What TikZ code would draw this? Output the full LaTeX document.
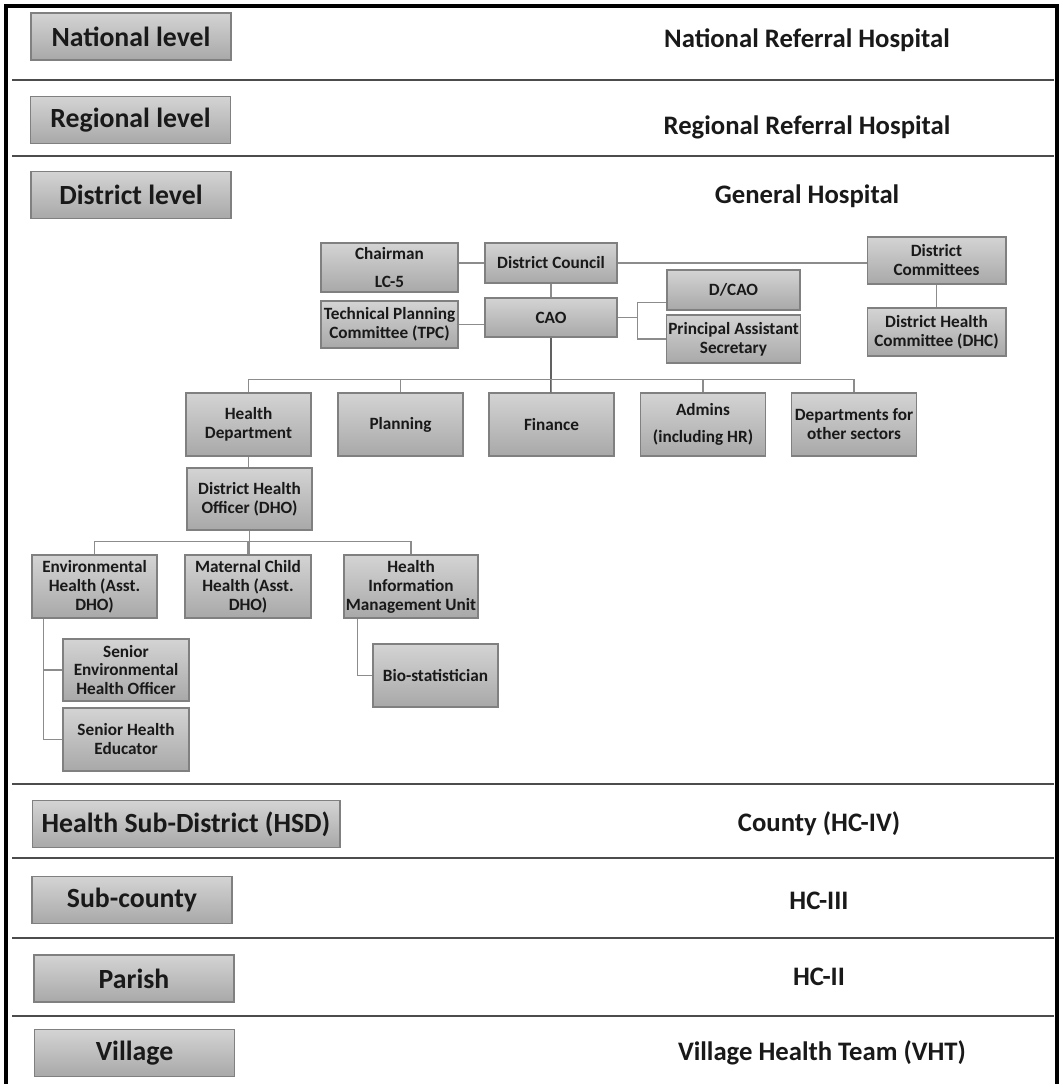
\documentclass[tikz,border=0pt]{standalone}
\usepackage{fontspec}
\setmainfont{Carlito}
\usepackage{tikz}
\usetikzlibrary{calc,positioning}

\begin{document}
\begin{tikzpicture}[x=0.02cm, y=-0.02cm,
  box/.style={draw=black!50, line width=0.6pt, top color=black!17, bottom color=black!34, text=black!90, inner sep=1pt, align=center},
  lvl/.style={box, minimum width=4cm, minimum height=0.94cm, font=\fontsize{15.8}{18}\selectfont\bfseries},
  org/.style={box, minimum width=2.5cm, minimum height=1.26cm, font=\fontsize{9.8}{10.8}\selectfont\bfseries},
  lbl/.style={text=black!90, font=\fontsize{15.2}{18}\selectfont\bfseries},
  sep/.style={draw=black!70, line width=0.85pt},
  link/.style={draw=black!45, line width=0.85pt},
  trunk/.style={draw=black!62, line width=1.5pt}]
\useasboundingbox (0,0) rectangle (1060,1084);
\draw[line width=1.8pt] (6,1100) -- (6,6) -- (1057,6) -- (1057,1100);
\foreach \y in {80,156,784,858,938,1016} \draw[sep] (12,\y) -- (1054,\y);
\node[lvl] (natl) at (131,36.5) {National level};
\node[lvl] (regl) at (130.5,120) {Regional level};
\node[lvl] (dist) at (131,195) {District level};
\node[lvl, minimum width=6.16cm] (hsd) at (186,824) {Health Sub-District (HSD)};
\node[lvl] (subc) at (132,900) {Sub-county};
\node[lvl] (par) at (134,978.5) {Parish};
\node[lvl] (vill) at (134.5,1053) {Village};
\node[lbl] (natr) at (807,40) {National Referral Hospital};
\node[lbl] (regr) at (807,127) {Regional Referral Hospital};
\node[lbl] (genh) at (807,196) {General Hospital};
\node[lbl] (cty) at (819,824) {County (HC-IV)};
\node[lbl] (hc3) at (819,901) {HC-III};
\node[lbl] (hc2) at (819,977) {HC-II};
\node[lbl] (vht) at (822,1053) {Village Health Team (VHT)};
\node[org, minimum width=2.74cm, minimum height=0.98cm] (chair) at (389.5,267.5) {Chairman\\[5pt]LC-5};
\node[org, minimum width=2.64cm, minimum height=0.8cm] (dc) at (551,263) {District Council};
\node[org, minimum width=2.74cm, minimum height=0.94cm] (tpc) at (389.5,324.5) {Technical Planning\\Committee (TPC)};
\node[org, minimum width=2.64cm, minimum height=0.78cm] (cao) at (551,317.5) {CAO};
\node[org, minimum width=2.66cm, minimum height=0.8cm] (dcao) at (733.5,290) {D/CAO};
\node[org, minimum width=2.66cm, minimum height=0.96cm] (pas) at (733.5,339) {Principal Assistant\\Secretary};
\node[org, minimum width=2.78cm, minimum height=0.94cm] (dcom) at (936.5,260.5) {District\\Committees};
\node[org, minimum width=2.78cm, minimum height=0.96cm] (dhc) at (936.5,332) {District Health\\Committee (DHC)};
\node[org] (hdep) at (248.5,424.5) {Health\\Department};
\node[org] (plan) at (400.5,424.5) {Planning};
\node[org] (fin) at (551.5,424.5) {Finance};
\node[org] (adm) at (703,424.5) {Admins\\[5pt](including HR)};
\node[org] (odep) at (854,424.5) {Departments for\\other sectors};
\node[org, minimum height=1.24cm] (dho) at (249.5,499) {District Health\\Officer (DHO)};
\node[org] (envh) at (94.5,586.5) {Environmental\\Health (Asst.\\DHO)};
\node[org, minimum width=2.52cm] (mch) at (248,586.5) {Maternal Child\\Health (Asst.\\DHO)};
\node[org, minimum width=2.68cm] (himu) at (411,586.5) {Health\\Information\\Management Unit};
\node[org, minimum width=2.52cm, minimum height=1.24cm] (seho) at (126,670) {Senior\\Environmental\\Health Officer};
\node[org, minimum width=2.52cm] (she) at (126,739.5) {Senior Health\\Educator};
\node[org] (bio) at (435.5,675.5) {Bio-statistician};
\draw[link] (dc.west) -- (dc.west -| chair.east);
\draw[link] (dc.east) -- (dc.east -| dcom.west);
\draw[link] (dc.south) -- (cao.north);
\draw[link] (tpc.east) -- (tpc.east -| cao.west);
\draw[link] (cao.east) -- ++(20,0) coordinate (cs);
\draw[link] ($(dcao.south west)+(0,-8)$) -| (cs) |- (pas.west);
\draw[link] (dcom.south) -- (dhc.north);
\draw[trunk] (cao.south) -- (cao.south |- fin.north) -- ++(0,-13);
\draw[link] (hdep.north) -- ++(0,-13) -| (odep.north);
\foreach \n in {plan,fin,adm} \draw[link] (\n.north) -- ++(0,-13);
\draw[link] (hdep.south) -- (hdep.south |- dho.north);
\draw[link] (dho.south) -- (dho.south |- envh.north);
\draw[link] (envh.north) -- ++(0,-13) -| (himu.north);
\draw[link] (mch.north) -- ++(0,-13);
\draw[link] ($(envh.south west)+(12,0)$) |- (she.west);
\draw[link] (seho.west) -- ++(-19,0);
\draw[link] ($(himu.south west)+(14,0)$) |- (bio.west);
\end{tikzpicture}
\end{document}
